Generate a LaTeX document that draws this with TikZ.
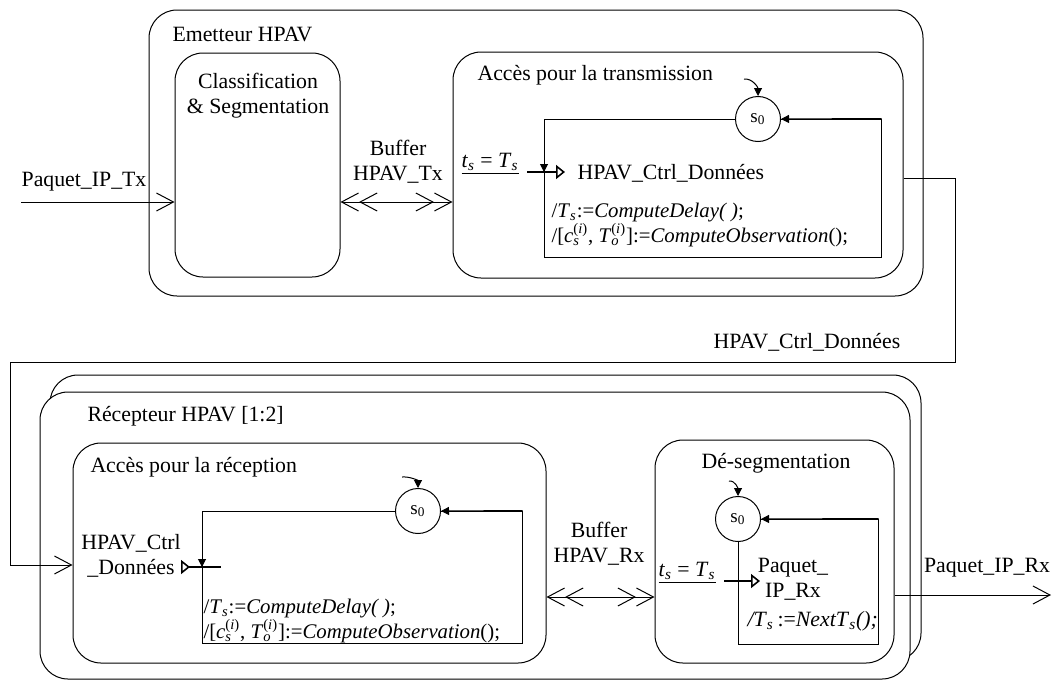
\documentclass[tikz,border=0pt]{standalone}
\usepackage{fontspec}
\setmainfont{Liberation Serif}
\usetikzlibrary{arrows.meta,fit,calc}
\newcommand{\sbi}[1]{\textsubscript{\textit{#1}}}
\newcommand{\cso}{\textit{c}\rlap{\sbi{s}}\raisebox{0.15ex}{\textsuperscript{(\textit{i})}}}
\newcommand{\Too}{\textit{T}\rlap{\sbi{o}}\raisebox{0.15ex}{\textsuperscript{(\textit{i})}}}
\begin{document}
\begin{tikzpicture}[x=0.5pt,y=-0.5pt,
  font=\fontsize{10.9}{12.5}\selectfont, line width=0.5pt,
  box/.style={draw, rounded corners=14pt, inner sep=0pt},
  rbox/.style={draw, inner sep=0pt, sharp corners},
  state/.style={draw, fill=white, circle, minimum size=22.5pt, inner sep=0pt, font=\fontsize{9.5}{10}\selectfont},
  txt/.style={inner sep=0pt},
  act/.style={inner sep=0pt, anchor=west, align=left, font=\fontsize{10.4}{12.5}\selectfont},
  flow/.style={-{Straight Barb[length=8.5pt,width=9pt]}},
  dflow/.style={{Straight Barb[length=8.5pt,width=9pt,sep=0pt]Straight Barb[length=8.5pt,width=9pt,sep=0pt]}-{Straight Barb[length=8.5pt,width=9pt,sep=0pt]Straight Barb[length=8.5pt,width=9pt,sep=0pt]}},
  trip/.style={-{Triangle[length=4pt,width=4pt]}},
  trbar/.style={line width=1pt, -{Triangle[open,length=4.5pt,width=7pt,line width=0.8pt]}},
  trbarin/.style={line width=1pt, {Triangle[open,reversed,length=4.5pt,width=7pt,line width=0.8pt]}-}
]
\useasboundingbox (0,0) rectangle (1052,680);

% ---------- Emetteur ----------
\node[box, fit={(149,10)(923,296)}] (emet) {};
\node[txt, anchor=west] (emetL) at (172,34) {Emetteur HPAV};
\node[box, fit={(175,53)(340,277)}] (clas) {};
\node[txt, align=center] (clasL) at (258,96) {Classification\\\& Segmentation};
\node[box, fit={(453,52)(903,278)}] (acctx) {};
\node[txt, anchor=west] (acctxL) at (477,75) {Accès pour la transmission};
\node[rbox, fit={(544,119)(881,257)}] (rtx) {};
\node[state] (s0tx) at (758,119) {s\textsubscript{0}};
\coordinate (i0tx) at (744,79);
\draw[trip] (i0tx) to[out=5,in=90] (s0tx.north);
\draw[trip] (rtx.north east) -- (s0tx.east);
\coordinate (trtx) at (544,172);
\draw[trip] (s0tx.west) -| (trtx);
\coordinate (bartxA) at (527,172);
\coordinate (bartxB) at (565,172);
\draw[trbar] (bartxA) -- (bartxB);
\node[txt, anchor=base east] (guardtx) at (519,167) {\underline{\textit{t}\sbi{s} = \textit{T}\sbi{s}}};
\node[txt, anchor=west] (hcdtx) at (577,173) {HPAV\_Ctrl\_Données};
\node[act] (acttx) at (551,225) {/\textit{T}\sbi{s}:=\textit{ComputeDelay( )};\\/[\cso, \Too]:=\textit{ComputeObservation}();};

\coordinate (ytx) at (0,202);
\coordinate (intx) at (21,202);
\draw[flow] (intx) -- (clas.west |- ytx);
\node[txt] (intxL) at (84,182) {Paquet\_IP\_Tx};
\draw[dflow] (clas.east |- ytx) -- (acctx.west |- ytx);
\node[txt, align=center] (buftxL) at (398,162) {Buffer\\HPAV\_Tx};

% ---------- Recepteur ----------
\node[box, fit={(50,375)(921,661)}] (recB) {};
\node[box, fill=white, fit={(40,392)(910,679)}] (rec) {};
\node[txt, anchor=west] (recL) at (87,416) {Récepteur HPAV [1:2]};
\node[box, fit={(73,443)(546,663)}] (accrx) {};
\node[txt, anchor=west] (accrxL) at (90,467) {Accès pour la réception};
\node[rbox, fit={(202,511)(522,643)}] (rrx) {};
\node[state] (s0rx) at (418,511) {s\textsubscript{0}};
\coordinate (i0rx) at (402,477);
\draw[trip] (i0rx) to[out=5,in=90] (s0rx.north);
\draw[trip] (rrx.north east) -- (s0rx.east);
\coordinate (trrx) at (202,567);
\draw[trip] (s0rx.west) -| (trrx);
\coordinate (barrxA) at (181,567);
\coordinate (barrxB) at (221,567);
\draw[trbarin] (barrxA) -- (barrxB);
\node[txt, align=center] (hcdrx) at (131,556) {HPAV\_Ctrl\\\_Données};
\node[act] (actrx) at (203,621) {/\textit{T}\sbi{s}:=\textit{ComputeDelay( )};\\/[\cso, \Too]:=\textit{ComputeObservation}();};

\node[box, fit={(655,440)(894,663)}] (deseg) {};
\node[txt] (desegL) at (776,463) {Dé-segmentation};
\node[rbox, fit={(738,519)(878,644)}] (rds) {};
\node[state] (s0ds) at (738,519) {s\textsubscript{0}};
\coordinate (i0ds) at (729,481);
\draw[trip] (i0ds) to[out=5,in=90] (s0ds.north);
\draw[trip] (rds.north east) -- (s0ds.east);
\coordinate (bardsA) at (724,581);
\coordinate (bardsB) at (760,581);
\draw[trbar] (bardsA) -- (bardsB);
\node[txt, anchor=base east] (guardds) at (716,576) {\underline{\textit{t}\sbi{s} = \textit{T}\sbi{s}}};
\node[txt, align=center] (pqrx) at (793,579) {Paquet\_\\IP\_Rx};
\node[txt, anchor=west] (actds) at (747,621) {\textit{/T}\sbi{s}\,:=\textit{NextT}\sbi{s}\textit{();}};

\coordinate (yrx) at (0,597);
\draw[dflow] (accrx.east |- yrx) -- (deseg.west |- yrx);
\node[txt, align=center] (bufrxL) at (599,544) {Buffer\\HPAV\_Rx};
\coordinate (outrx) at (1051,595);
\draw[flow] (deseg.east |- outrx) -- (outrx);
\node[txt] (outrxL) at (987,568) {Paquet\_IP\_Rx};

% ---------- liaison Emetteur -> Recepteur ----------
\coordinate (outy) at (0,178);
\coordinate (c1) at (955,362);
\coordinate (c2) at (10,565);
\draw[flow] (acctx.east |- outy) -| (c1) -| (c2) -- (accrx.west |- c2);
\node[txt] (linkL) at (807,342) {HPAV\_Ctrl\_Données};
\end{tikzpicture}
\end{document}
